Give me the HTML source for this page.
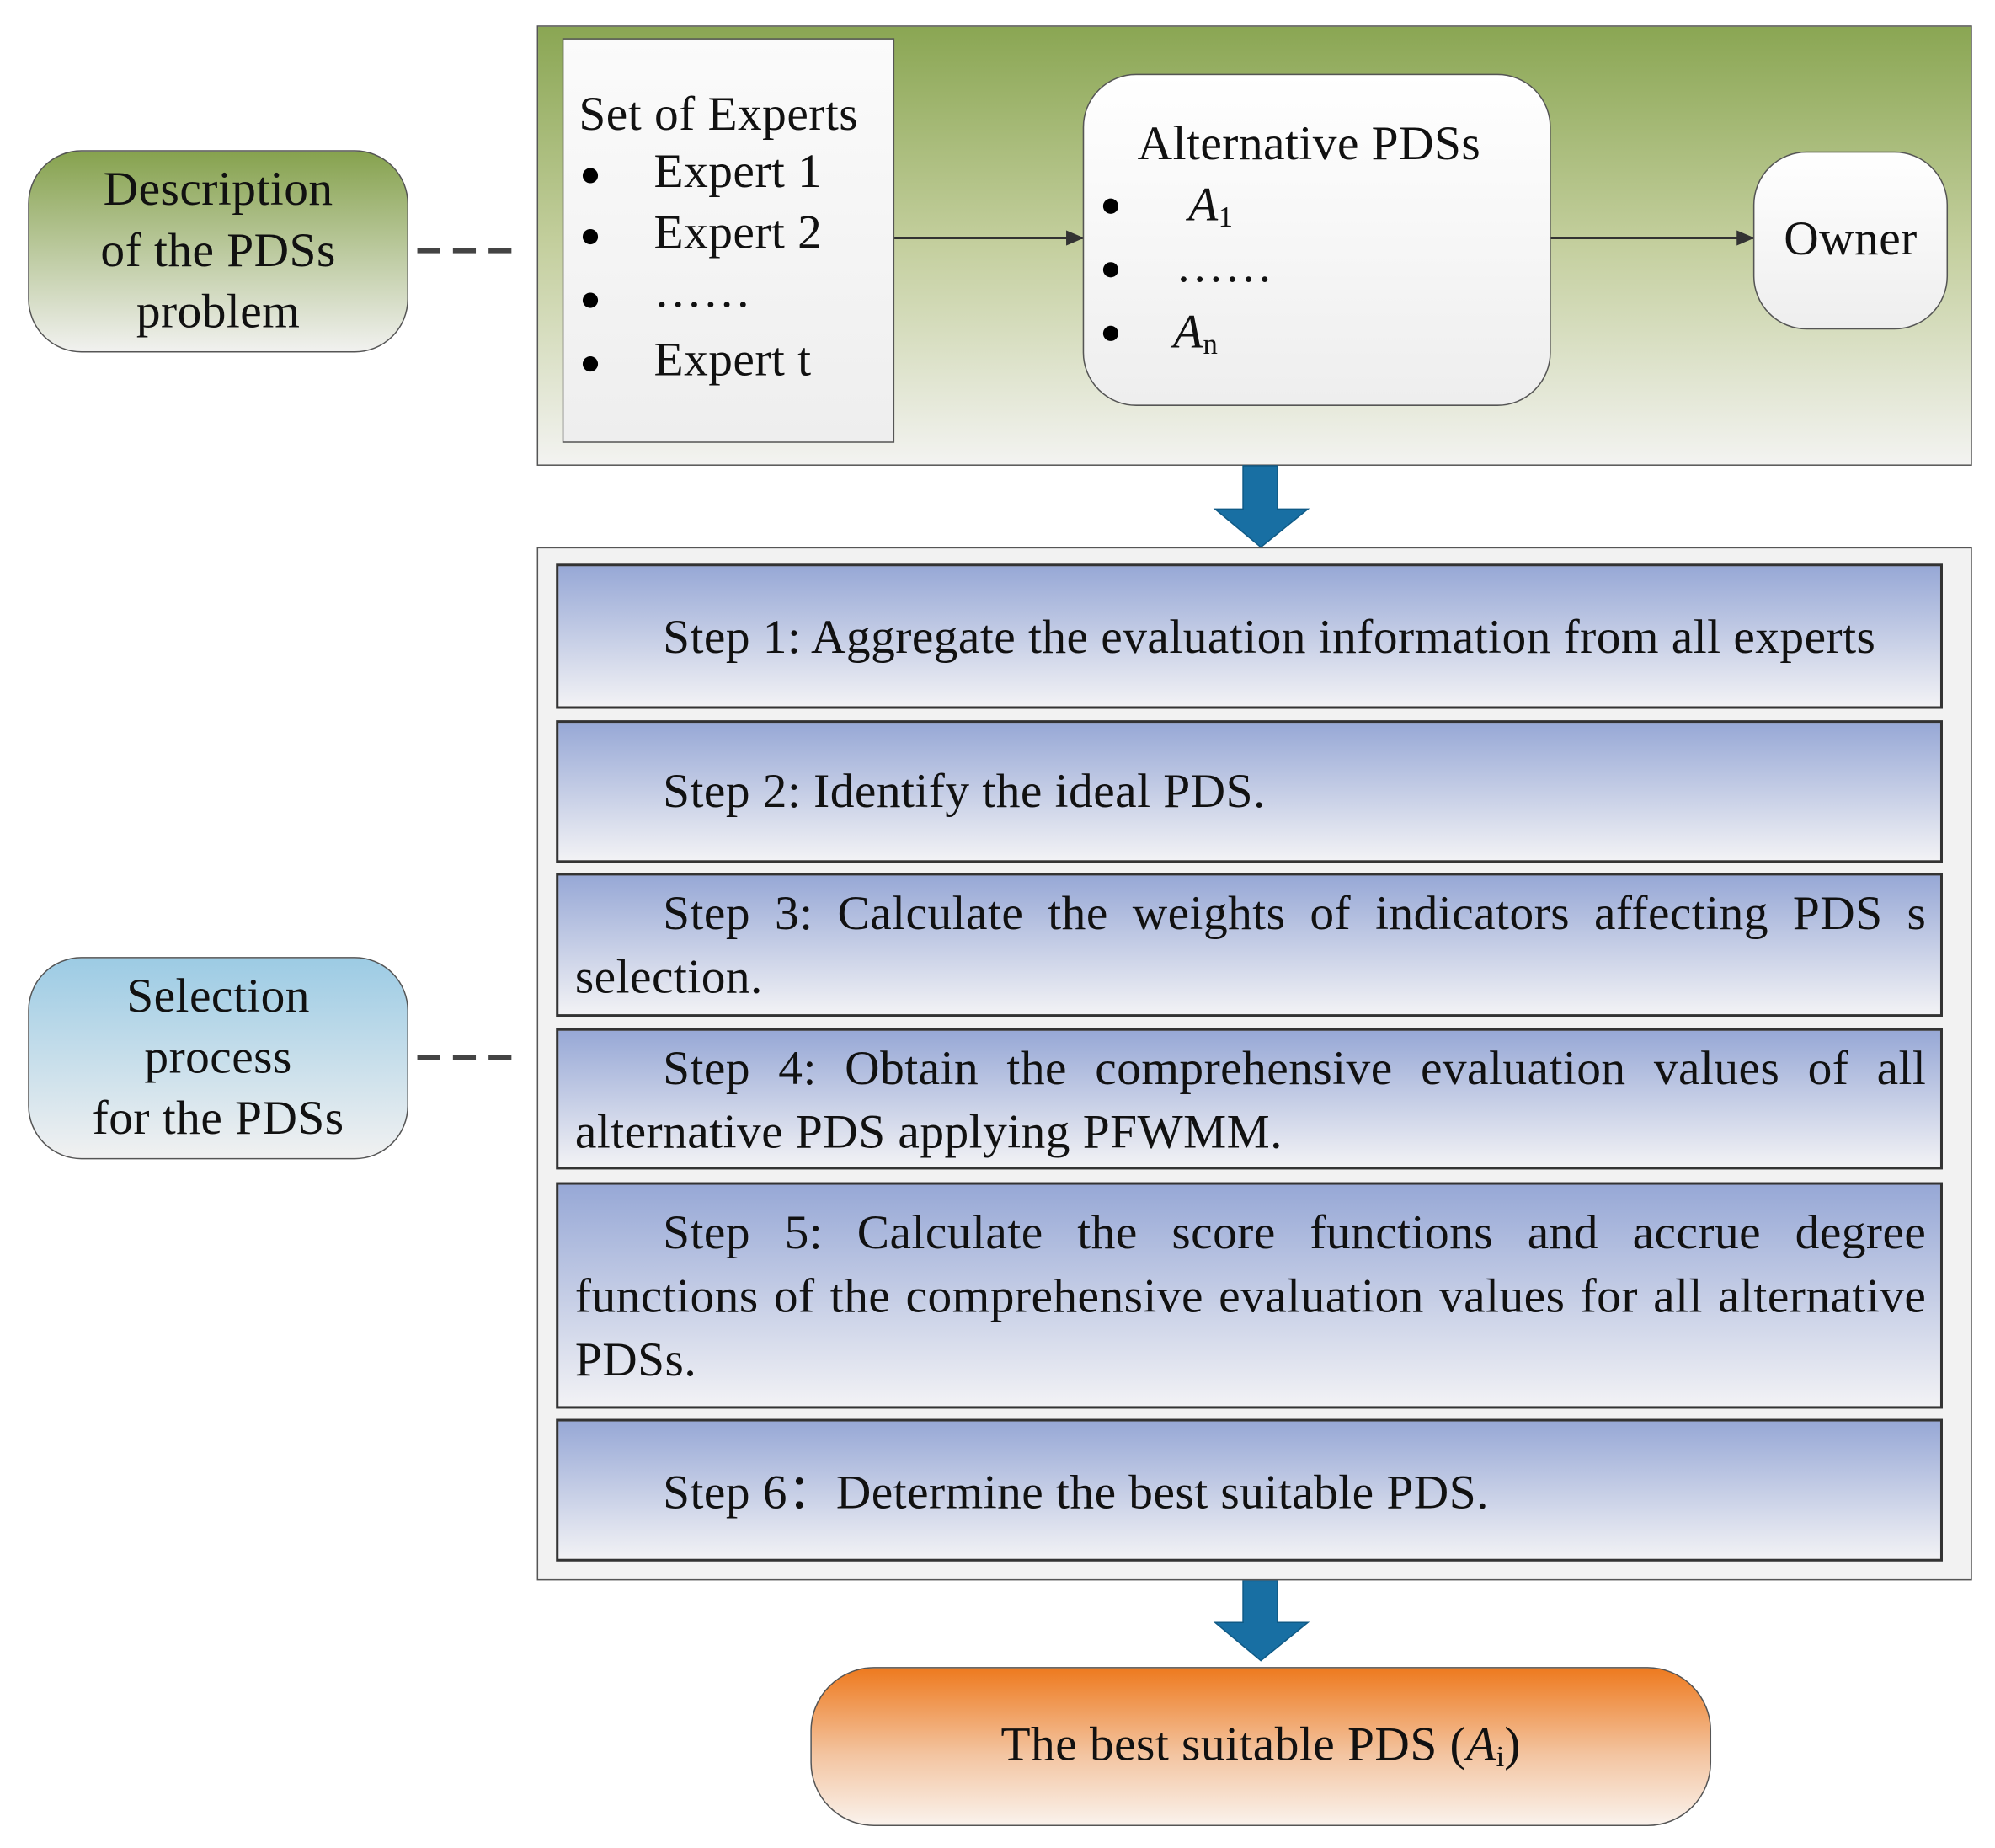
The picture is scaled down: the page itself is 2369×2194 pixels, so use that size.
<!DOCTYPE html>
<html><head><meta charset="utf-8"><style>
html,body{margin:0;padding:0;background:#fff;}
body{width:2369px;height:2194px;overflow:hidden;}
#w{position:absolute;left:0;top:0;width:1568px;height:1452px;transform:scale(1.5108);transform-origin:0 0;font-family:"Liberation Serif",serif;color:#111;font-size:38px;letter-spacing:0.3px;}
.a{position:absolute;box-sizing:border-box;white-space:nowrap;}
.step{position:absolute;left:437px;width:1090px;box-sizing:border-box;border:2px solid #333;background:linear-gradient(#97a8d6,#f2f2f5);padding:0 11px 0 13px;line-height:50px;text-align:justify;text-align-last:left;}
.step p{margin:0;text-indent:69px;}
.bul{position:absolute;width:12px;height:12px;border-radius:50%;background:#000;}
sub{font-size:23px;vertical-align:-5px;line-height:0;letter-spacing:0;}
</style></head><body><div id="w">
<div class="a" style="left:422px;top:20px;width:1128px;height:346px;border:1.5px solid #555;background:linear-gradient(#8aa653,#c4cf9e 50%,#f3f3f1)"></div>
<div class="a" style="left:442px;top:30px;width:261px;height:318px;border:1.5px solid #555;background:linear-gradient(#fbfbfb,#eeeeee)"></div>
<div class="a" style="left:455px;top:66px;line-height:48px">Set of Experts</div>
<div class="bul" style="left:458px;top:132px"></div><div class="a" style="left:514px;top:113px">Expert 1</div>
<div class="bul" style="left:458px;top:180px"></div><div class="a" style="left:514px;top:161px">Expert 2</div>
<div class="bul" style="left:458px;top:230px"></div><div class="a" style="left:514px;top:207px">……</div>
<div class="bul" style="left:458px;top:280px"></div><div class="a" style="left:514px;top:261px">Expert t</div>
<div class="a" style="left:851px;top:58px;width:368px;height:261px;border:1.5px solid #555;border-radius:42px;background:linear-gradient(#fff,#eee)"></div>
<div class="a" style="left:894px;top:91px">Alternative PDSs</div>
<div class="bul" style="left:867px;top:156px"></div><div class="a" style="left:934px;top:139px"><i>A</i><sub>1</sub></div>
<div class="bul" style="left:867px;top:206px"></div><div class="a" style="left:924px;top:187px">……</div>
<div class="bul" style="left:867px;top:256px"></div><div class="a" style="left:922px;top:239px"><i>A</i><sub>n</sub></div>
<div class="a" style="left:1378px;top:119px;width:153px;height:140px;border:1.5px solid #555;border-radius:42px;background:linear-gradient(#fff,#eee);text-align:center;line-height:136px">Owner</div>
<svg class="a" style="left:0;top:0" width="1568" height="1452">
<defs><marker id="m" markerWidth="14" markerHeight="12" refX="13" refY="6" orient="auto" markerUnits="userSpaceOnUse"><path d="M0,0L14,6L0,12z" fill="#333"/></marker></defs>
<line x1="703" y1="187" x2="851" y2="187" stroke="#333" stroke-width="2" marker-end="url(#m)"/>
<line x1="1219" y1="187" x2="1378" y2="187" stroke="#333" stroke-width="2" marker-end="url(#m)"/>
<line x1="328" y1="197" x2="406" y2="197" stroke="#444" stroke-width="4" stroke-dasharray="18,10"/>
<line x1="328" y1="831" x2="406" y2="831" stroke="#444" stroke-width="4" stroke-dasharray="18,10"/>
<path d="M977,366H1004V400H1028L991,430L955,400H977Z" fill="#186fa3" stroke="#0f5a86" stroke-width="1"/>
<path d="M977,1242H1004V1275H1028L991,1305L955,1275H977Z" fill="#186fa3" stroke="#0f5a86" stroke-width="1"/>
</svg>
<div class="a" style="left:22px;top:118px;width:299px;height:159px;border:1.5px solid #555;border-radius:42px;background:linear-gradient(#86a24e,#f1f1ef);text-align:center;line-height:48px;padding-top:6px">Description<br>of the PDSs<br>problem</div>
<div class="a" style="left:422px;top:430px;width:1128px;height:812px;border:1.5px solid #555;background:#f2f2f2"></div>
<div class="step" style="top:443px;height:114px;padding-top:31px"><p>Step 1: Aggregate the evaluation information from all experts</p></div>
<div class="step" style="top:566px;height:112px;padding-top:29px"><p>Step 2: Identify the ideal PDS.</p></div>
<div class="step" style="top:686px;height:113px;padding-top:5px"><p>Step 3: Calculate the weights of indicators affecting PDS s selection.</p></div>
<div class="step" style="top:808px;height:111px;padding-top:5px"><p>Step 4: Obtain the comprehensive evaluation values of all alternative PDS applying PFWMM.</p></div>
<div class="step" style="top:929px;height:178px;padding-top:13px"><p>Step 5: Calculate the score functions and accrue degree functions of the comprehensive evaluation values for all alternative PDSs.</p></div>
<div class="step" style="top:1115px;height:112px;padding-top:31px"><p>Step 6：Determine the best suitable PDS.</p></div>
<div class="a" style="left:22px;top:752px;width:299px;height:159px;border:1.5px solid #555;border-radius:42px;background:linear-gradient(#9ccbe4,#f1f1f1);text-align:center;line-height:48px;padding-top:6px">Selection<br>process<br>for the PDSs</div>
<div class="a" style="left:637px;top:1310px;width:708px;height:125px;border:1.5px solid #555;border-radius:50px;background:linear-gradient(#ee7a1f,#f3c4a0 55%,#faf2ec);text-align:center;line-height:120px">The best suitable PDS (<i>A</i><sub>i</sub>)</div>
</div></body></html>
